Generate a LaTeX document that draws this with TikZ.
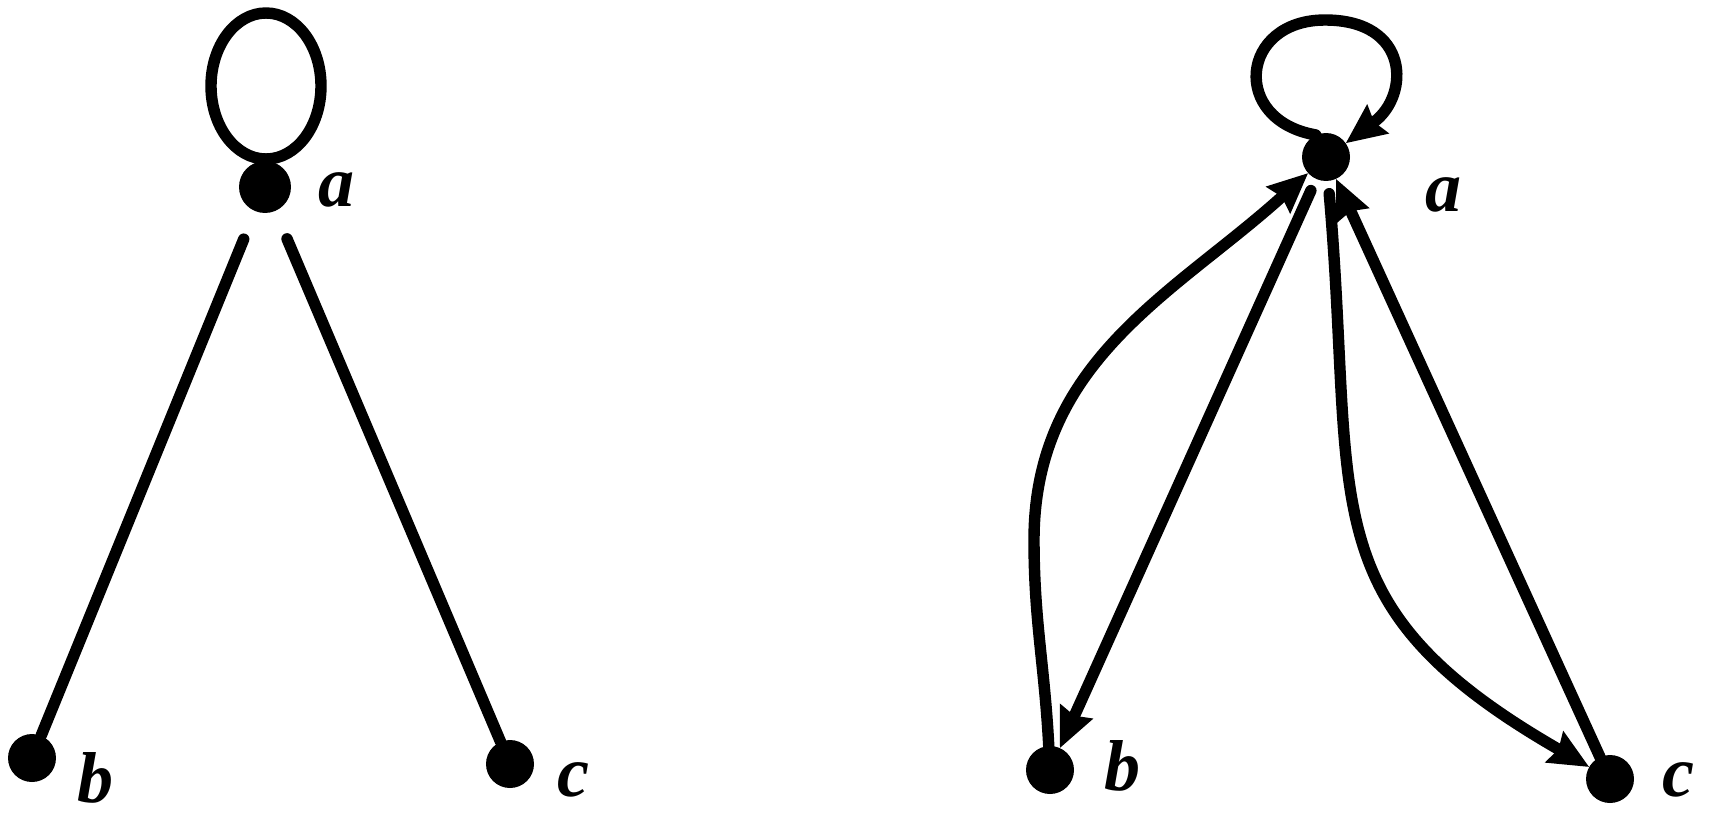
\documentclass[tikz,border=0pt]{standalone}
\usepackage{fontspec}
\setmainfont{Liberation Serif}
\usetikzlibrary{arrows.meta,positioning}

\begin{document}
\begin{tikzpicture}[x=0.02cm, y=-0.02cm, >={Stealth[length=23pt, width=21pt, inset=3pt, line width=0pt]}]
  % Styles
  \tikzstyle{vertex} = [circle, fill=black, inner sep=0pt, minimum size=0.96cm]
  \tikzstyle{vname} = [anchor=base, inner sep=0pt, font=\fontsize{41}{46}\selectfont\bfseries\itshape]
  \tikzstyle{edge} = [line width=6.5pt, line cap=round]

  \useasboundingbox (0,0) rectangle (1710,815);

  % Nodes (left graph)
  \node [vertex, minimum height=1.04cm] (la) at (265,187) {};
  \node [vertex] (lb) at (32,758) {};
  \node [vertex] (lc) at (510,764) {};
  \node [vname] (la-name) at (337,206) {a};
  \node [vname] (lb-name) at (96,802) {b};
  \node [vname] (lc-name) at (573,796) {c};

  % Nodes (right graph)
  \node [vertex] (ra) at (1326,157) {};
  \node [vertex] (rb) at (1050,770) {};
  \node [vertex] (rc) at (1610,779) {};
  \node [vname] (ra-name) at (1443,211) {a};
  \node [vname] (rb-name) at (1122,790) {b};
  \node [vname] (rc-name) at (1678,796) {c};

  % Edges (left graph)
  \draw [edge] (la) ++(1,-101) ellipse [x radius=55, y radius=73];
  \draw [edge, shorten <=0.6cm] (la) -- (lb);
  \draw [edge, shorten <=0.6cm] (la) -- (lc);

  % Edges (right graph)
  \draw [edge, ->] (ra.115) .. controls (1230,120) and (1240,20) .. (1325,20)
                            .. controls (1410,20) and (1410,95) .. (ra.35);
  \draw [edge, ->] (rb) to[out=93, in=-90] (1034,540) to[out=90, in=222] (ra);
  \draw [edge, ->, shorten <=0.25cm] (ra) -- (rb);
  \draw [edge, ->, shorten <=0.25cm] (ra) to[out=-85, in=150, looseness=1.3] (rc);
  \draw [edge, ->] (rc) -- (ra);

\end{tikzpicture}
\end{document}
